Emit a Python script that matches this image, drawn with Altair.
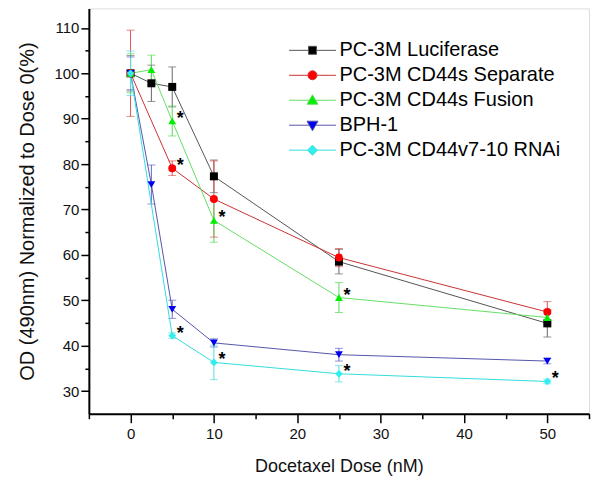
import altair as alt
import pandas as pd

series_names = ["PC-3M Luciferase", "PC-3M CD44s Separate", "PC-3M CD44s Fusion",
                "BPH-1", "PC-3M CD44v7-10 RNAi"]

luc_dose = [0, 2.5, 5, 10, 25, 50]
luc_val = [100, 97.8, 97.0, 77.3, 58.5, 44.9]
luc_err = [3.9, 4.0, 4.4, 3.6, 2.7, 3.0]

sep_dose = [0, 5, 10, 25, 50]
sep_val = [100, 79.1, 72.3, 59.4, 47.4]
sep_err = [9.5, 1.6, 8.4, 2.0, 2.3]

fus_dose = [0, 2.5, 5, 10, 25, 50]
fus_val = [100, 100.8, 89.5, 67.6, 50.6, 46.2]
fus_err = [4.3, 3.2, 3.3, 4.8, 3.3, 1.5]

bph_dose = [0, 2.5, 5, 10, 25, 50]
bph_val = [100, 75.5, 48.0, 40.6, 38.0, 36.6]
bph_err = [3.6, 4.3, 2.0, 0.9, 1.4, 0.6]

rnai_dose = [0, 5, 10, 25, 50]
rnai_val = [100, 42.2, 36.3, 33.8, 32.1]
rnai_err = [4.9, 0.6, 3.8, 1.8, 0.5]

star_series = ["PC-3M CD44s Fusion", "PC-3M CD44s Separate", "PC-3M CD44s Fusion",
               "PC-3M CD44s Fusion", "PC-3M CD44v7-10 RNAi", "PC-3M CD44v7-10 RNAi",
               "PC-3M CD44v7-10 RNAi", "PC-3M CD44v7-10 RNAi"]
star_dose = [5, 5, 10, 25, 5, 10, 25, 50]

x_major = [0, 10, 20, 30, 40, 50]
x_minor = [-5, 5, 15, 25, 35, 45, 55]
y_major = [30, 40, 50, 60, 70, 80, 90, 100, 110]
y_minor = [35, 45, 55, 65, 75, 85, 95, 105]

marker_colors = ["#000000", "#ff0000", "#00ee00", "#0000ee", "#33eeee"]
line_colors = ["#555555", "#cc3333", "#66dd66", "#5555aa", "#33dddd"]
err_colors = ["#666666", "#dd5555", "#55dd55", "#6666cc", "#55dddd"]
shapes = ["square", "circle", "triangle-up", "triangle-down", "diamond"]
marker_sizes = [64, 60, 85, 80, 80]
legend_paths = [
    "M-4.7,0H-0.8M0.8,0H4.7M-0.8,-0.8H0.8V0.8H-0.8Z",
    "M-4.7,0H-0.9M0.9,0H4.7M-0.9,0A0.9,0.9 0 1,1 0.9,0A0.9,0.9 0 1,1 -0.9,0Z",
    "M-4.7,0H-0.64M0.64,0H4.7M0,-1.1L1.1,0.8H-1.1Z",
    "M-4.7,0H-0.64M0.64,0H4.7M0,1.1L1.1,-0.8H-1.1Z",
    "M-4.7,0H-1M1,0H4.7M0,-1L1,0L0,1L-1,0Z",
]

rows = []
for name, d, v, e in zip(series_names,
                         [luc_dose, sep_dose, fus_dose, bph_dose, rnai_dose],
                         [luc_val, sep_val, fus_val, bph_val, rnai_val],
                         [luc_err, sep_err, fus_err, bph_err, rnai_err]):
    for di, vi, ei in zip(d, v, e):
        rows.append({"series": name, "dose": di, "value": vi, "lo": vi - ei, "hi": vi + ei})
df = pd.DataFrame(rows)

stars = df.merge(pd.DataFrame({"series": star_series, "dose": star_dose}), on=["series", "dose"])
legend_df = df[df["dose"] == 0]

FONT = "Liberation Sans"
xs = alt.Scale(domain=[-5, 55], nice=False, zero=False)
ys = alt.Scale(domain=[25, 114.3], nice=False, zero=False)

x_main = alt.X("dose:Q", scale=xs, axis=alt.Axis(
    orient="bottom", values=x_major, tickSize=9, tickWidth=1.5, tickColor="#000",
    domainWidth=2, domainColor="#000", labelFontSize=15, labelFont=FONT, labelColor="#111",
    labelPadding=4, grid=False, title="Docetaxel Dose (nM)", titleFont=FONT,
    titleFontSize=18, titleFontWeight="normal", titleColor="#111", titlePadding=16))
y_main = alt.Y("value:Q", scale=ys, axis=alt.Axis(
    orient="left", values=y_major, tickSize=8, tickWidth=1.5, tickColor="#000",
    domainWidth=2, domainColor="#000", labelFontSize=15, labelFont=FONT, labelColor="#111",
    labelPadding=2, grid=False, title="OD (490nm) Normalized to Dose 0(%)", titleFont=FONT,
    titleFontSize=20, titleFontWeight="normal", titleColor="#111", titlePadding=16))
x_min = alt.X("dose:Q", scale=xs, axis=alt.Axis(
    orient="bottom", values=x_minor, tickSize=5, tickWidth=1.5, tickColor="#000",
    domain=False, labels=False, grid=False, title=None))
y_min = alt.Y("value:Q", scale=ys, axis=alt.Axis(
    orient="left", values=y_minor, tickSize=4, tickWidth=1.5, tickColor="#000",
    domain=False, labels=False, grid=False, title=None))
x_none = alt.X("dose:Q", scale=xs, axis=None)
y_none = alt.Y("value:Q", scale=ys, axis=None)

err_color = alt.Color("series:N", scale=alt.Scale(domain=series_names, range=err_colors), legend=None)

err_rule = alt.Chart(df).mark_rule(strokeWidth=1).encode(
    x=x_none, y=alt.Y("lo:Q", scale=ys, axis=None), y2="hi:Q", color=err_color)
cap_lo = alt.Chart(df).mark_tick(orient="horizontal", size=8, thickness=1).encode(
    x=x_none, y=alt.Y("lo:Q", scale=ys, axis=None), color=err_color)
cap_hi = alt.Chart(df).mark_tick(orient="horizontal", size=8, thickness=1).encode(
    x=x_none, y=alt.Y("hi:Q", scale=ys, axis=None), color=err_color)

lines = alt.Chart(df).mark_line(strokeWidth=1).encode(
    x=x_min, y=y_min, order="dose:Q",
    stroke=alt.Stroke("series:N", scale=alt.Scale(domain=series_names, range=line_colors), legend=None))

points = alt.Chart(df).mark_point(filled=True, opacity=1, strokeWidth=0).encode(
    x=x_main, y=y_main,
    color=alt.Color("series:N", scale=alt.Scale(domain=series_names, range=marker_colors), legend=None),
    shape=alt.Shape("series:N", scale=alt.Scale(domain=series_names, range=shapes), legend=None),
    size=alt.Size("series:O", scale=alt.Scale(domain=series_names, range=marker_sizes), legend=None))

star_text = alt.Chart(stars).mark_text(
    text="*", dx=8, dy=-2, fontSize=18, fontWeight="bold", font=FONT, color="#000").encode(
    x=x_none, y=y_none)

leg = dict(orient="none", legendX=214, legendY=32, title=None, labelFont=FONT,
           labelFontSize=20, labelColor="#000", labelOffset=17, rowPadding=5,
           symbolSize=100, symbolStrokeWidth=1, symbolOpacity=1, padding=0,
           labelLimit=400)

legend_layer = alt.Chart(legend_df).mark_point(filled=True, opacity=0, size=100, strokeWidth=1).encode(
    x=x_none, y=y_none,
    fill=alt.Fill("series:N", scale=alt.Scale(domain=series_names, range=marker_colors),
                  legend=alt.Legend(**leg)),
    stroke=alt.Stroke("series:N", scale=alt.Scale(domain=series_names, range=line_colors),
                      legend=alt.Legend(**leg)),
    shape=alt.Shape("series:N", scale=alt.Scale(domain=series_names, range=legend_paths),
                    legend=alt.Legend(**leg)))

chart = alt.layer(err_rule, cap_lo, cap_hi, lines, points, star_text, legend_layer).resolve_scale(
    color="independent", fill="independent", stroke="independent",
    shape="independent", size="independent").resolve_axis(
    x="independent", y="independent").properties(
    width=501, height=406,
    autosize=alt.AutoSizeParams(type="none"),
    padding={"left": 81, "top": 0, "right": 3, "bottom": 66}
).configure_view(stroke=None).configure(background="white")

chart.save("out.html", embed_options={"renderer": "svg", "actions": False})
